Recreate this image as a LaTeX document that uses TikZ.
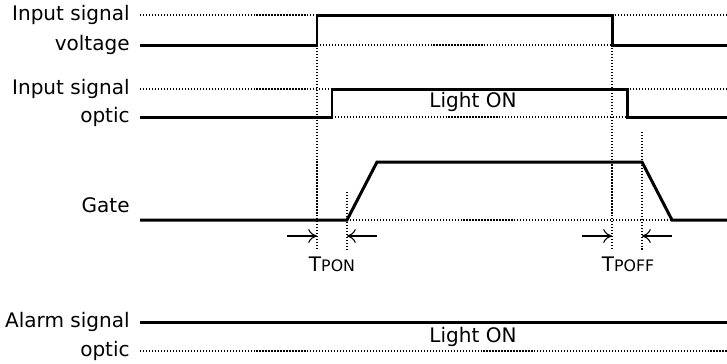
\documentclass[tikz,border=0pt]{standalone}
\usepackage{fontspec}
\setmainfont{DejaVu Sans}
\usetikzlibrary{arrows.meta, positioning, calc}

\begin{document}
\begin{tikzpicture}[x=0.02cm, y=-0.02cm,
    wave/.style={line width=1.7pt},
    ref/.style={densely dotted, line width=0.7pt},
    lbl/.style={anchor=east, inner sep=0pt, font=\fontsize{11.4}{13}\selectfont},
    txt/.style={inner sep=0pt, font=\fontsize{11.4}{13}\selectfont},
    tarrow/.style={-{To[length=5pt, width=8pt]}, line width=0.6pt}]
    \useasboundingbox (0,0) rectangle (727,363);
    % labels
    \node[lbl] (inv1) at (130,15) {Input signal};
    \node[lbl] (inv2) at (130,45) {voltage};
    \node[lbl] (ino1) at (130,89) {Input signal};
    \node[lbl] (ino2) at (130,117) {optic};
    \node[lbl] (gate) at (130,205) {Gate};
    \node[lbl] (al1) at (130,322) {Alarm signal};
    \node[lbl] (al2) at (130,351) {optic};
    % input signal voltage
    \coordinate (v0) at (140,45);
    \coordinate (v1) at (317,45);
    \coordinate (v2) at (317,15);
    \coordinate (v3) at (612,15);
    \coordinate (v4) at (612,45);
    \coordinate (v5) at (727,45);
    \draw[wave] (v0) -- (v1) -- (v2) -- (v3) -- (v4) -- (v5);
    \draw[ref] (v0 |- v2) -- (v2);
    \draw[ref] (v3) -- (v5 |- v3);
    \draw[ref] (v1) -- (v4);
    % input signal optic
    \coordinate (o0) at (140,117);
    \coordinate (o1) at (332,117);
    \coordinate (o2) at (332,89);
    \coordinate (o3) at (627,89);
    \coordinate (o4) at (627,117);
    \coordinate (o5) at (727,117);
    \draw[wave] (o0) -- (o1) -- (o2) -- (o3) -- (o4) -- (o5);
    \draw[ref] (o0 |- o2) -- (o2);
    \draw[ref] (o3) -- (o5 |- o3);
    \draw[ref] (o1) -- (o4);
    \node[txt] (on1) at (473,102) {Light ON};
    % gate
    \coordinate (g0) at (140,220);
    \coordinate (g1) at (347,220);
    \coordinate (g2) at (377,162);
    \coordinate (g3) at (642,162);
    \coordinate (g4) at (672,220);
    \coordinate (g5) at (727,220);
    \draw[wave] (g0) -- (g1) -- (g2) -- (g3) -- (g4) -- (g5);
    \draw[ref] (g1) -- (g4);
    % timing marks
    \coordinate (m1) at (317,250);
    \coordinate (m2) at (347,250);
    \coordinate (m3) at (612,250);
    \coordinate (m4) at (642,250);
    \draw[ref] (v1) -- (m1);
    \draw[ref] (347,192) -- (m2);
    \draw[ref] (v4) -- (m3);
    \draw[ref] (642,132) -- (m4);
    \coordinate (a1) at (287,236);
    \coordinate (a2) at (377,236);
    \coordinate (a3) at (582,236);
    \coordinate (a4) at (672,236);
    \draw[tarrow] (a1) -- (a1 -| m1);
    \draw[tarrow] (a2) -- (a2 -| m2);
    \draw[tarrow] (a3) -- (a3 -| m3);
    \draw[tarrow] (a4) -- (a4 -| m4);
    \node[txt] (tpon) at (332,264) {T\fontsize{9}{10}\selectfont PON};
    \node[txt] (tpoff) at (628,264) {T\fontsize{9}{10}\selectfont POFF};
    % alarm signal optic
    \coordinate (s0) at (140,322);
    \coordinate (s1) at (727,322);
    \draw[wave] (s0) -- (s1);
    \draw[ref] (s0 |- al2) -- (s1 |- al2);
    \node[txt] (on2) at (473,337) {Light ON};
\end{tikzpicture}
\end{document}
